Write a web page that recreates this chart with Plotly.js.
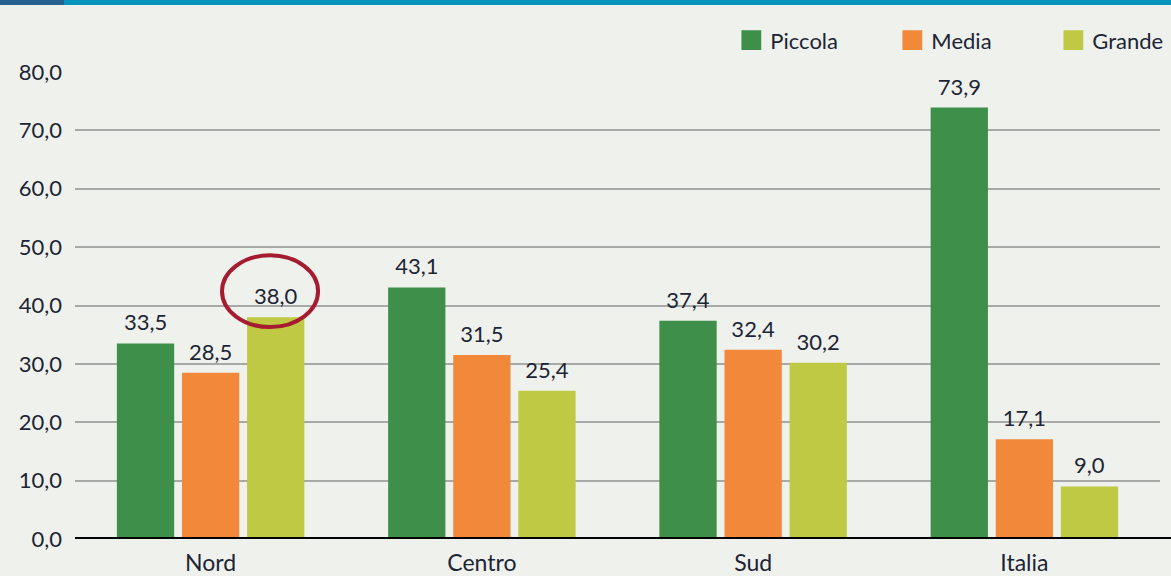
<!DOCTYPE html>
<html><head><meta charset="utf-8">
<script src="https://cdn.plot.ly/plotly-3.0.1.min.js"></script>
<style>html,body{margin:0;padding:0;background:#eff1ec;}#c{width:1171px;height:576px;}</style>
</head><body><div id="c"></div>
<script>
const categories = ['Nord', 'Centro', 'Sud', 'Italia'];
const piccola = [33.5, 43.1, 37.4, 73.9];
const media = [28.5, 31.5, 32.4, 17.1];
const grande = [38.0, 25.4, 30.2, 9.0];
const tickVals = [0, 10, 20, 30, 40, 50, 60, 70, 80];

const txtFont = {family: 'Lato, sans-serif', size: 22, color: '#1c2535'};
function mk(name, y, color) {
  return {type: 'bar', name: name, x: categories, y: y,
    marker: {color: color},
    texttemplate: '%{y:.1f}', textposition: 'outside', cliponaxis: false,
    textfont: txtFont, hoverinfo: 'skip'};
}
const data = [mk('Piccola', piccola, '#3e8f4a'), mk('Media', media, '#f1883a'), mk('Grande', grande, '#c0c943')];
const layout = {
  width: 1171, height: 576,
  paper_bgcolor: '#eff1ec', plot_bgcolor: '#eff1ec',
  margin: {l: 75, r: 11, t: 72, b: 37, autoexpand: false},
  separators: ',.',
  barmode: 'group', bargap: 0.28, bargroupgap: 0.12,
  font: {family: 'Lato, sans-serif', color: '#1c2535'},
  xaxis: {type: 'category', tickfont: {size: 23, color: '#1c2535'}, showgrid: false, ticks: '', showline: false, zeroline: false, ticklabelstandoff: 8},
  yaxis: {range: [0, 80], tickvals: tickVals, tickformat: '.1f', tickfont: {size: 22, color: '#1c2535'},
    showgrid: true, gridcolor: '#a8a8a6', gridwidth: 2, zeroline: false, ticks: '', ticklabelstandoff: 12, showline: false},
  legend: {orientation: 'h', x: 0.604, xanchor: 'left', y: 1.023, yanchor: 'bottom', font: {size: 22, color: '#1c2535'},
    bgcolor: 'rgba(0,0,0,0)', itemwidth: 30, traceorder: 'normal', entrywidth: 116},
  shapes: [
    {type: 'line', xref: 'paper', yref: 'y', x0: 0, x1: 1.02, y0: 0, y1: 0, line: {color: '#000', width: 4}},
    {type: 'circle', xref: 'x', yref: 'y', x0: 0.042, x1: 0.396, y0: 36.3, y1: 48.6, line: {color: '#a51c30', width: 4}}
  ]
};
Plotly.newPlot('c', data, layout, {displayModeBar: false, staticPlot: true}).then(() => {
  const ns = 'http://www.w3.org/2000/svg';
  document.querySelectorAll('#c .legend .legendpoints path').forEach(p => {
    p.setAttribute('transform', 'translate(21,0) scale(1.65)');
  });
  document.querySelectorAll('#c .bars .bartext').forEach(t => {
    const tr = t.getAttribute('transform') || '';
    t.setAttribute('transform', 'translate(0,-5) ' + tr);
  });
  const r1 = document.createElementNS(ns, 'rect');
  r1.setAttribute('x', 0); r1.setAttribute('y', 0); r1.setAttribute('width', 1171); r1.setAttribute('height', 5); r1.setAttribute('fill', '#0795bd');
  const r2 = document.createElementNS(ns, 'rect');
  r2.setAttribute('x', 0); r2.setAttribute('y', 0); r2.setAttribute('width', 64); r2.setAttribute('height', 5); r2.setAttribute('fill', '#25628f');
  const layers = document.querySelectorAll('#c svg.main-svg');
  layers[layers.length - 1].appendChild(r1);
  layers[layers.length - 1].appendChild(r2);
});
</script>
</body></html>
